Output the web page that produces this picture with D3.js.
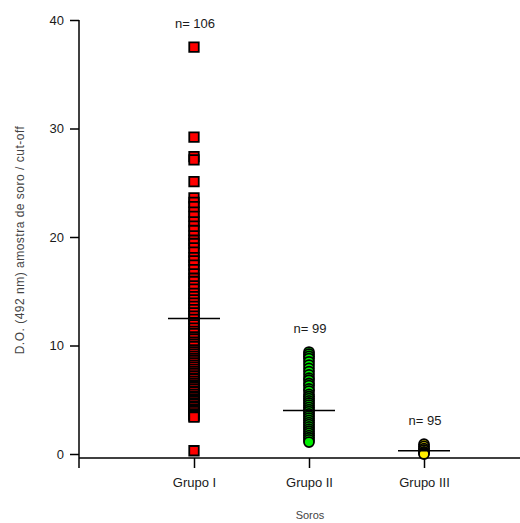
<!DOCTYPE html>
<html>
<head>
<meta charset="utf-8">
<script src="https://cdn.jsdelivr.net/npm/d3@7"></script>
<style>
  body { margin: 0; background: #fff; }
  text { font-family: "Liberation Sans", Arial, sans-serif; fill: #1a1a1a; }
</style>
</head>
<body>
<div id="chart"></div>
<script>
// groups on the x axis
const groups = ["Grupo I", "Grupo II", "Grupo III"];
const counts = [106, 99, 95];
const means = [12.5, 4.0, 0.3];
const colors = ["#ff0000", "#00ee00", "#ffee00"];
const yTicks = [0, 10, 20, 30, 40];

// values (O.D. ratio)
const grupoI = [
    37.5, 29.2, 27.4, 27.1, 25.1, 23.6, 23.2, 22.8, 22.3, 21.9,
    21.4, 21.0, 20.6, 20.1, 19.7, 19.4, 19.0, 18.6, 18.1, 17.8,
    17.4, 17.0, 16.6, 16.2, 15.9, 15.5, 15.2, 14.8, 14.5, 14.2,
    13.9, 13.6, 13.3, 13.0, 12.7, 12.4, 12.1, 11.9, 11.6, 11.3,
    11.1, 10.8, 10.6, 10.3, 10.1, 9.9, 9.6, 9.4, 9.2, 9.0,
    8.8, 8.6, 8.4, 8.2, 8.0, 7.8, 7.6, 7.4, 7.2, 7.0,
    6.9, 6.7, 6.5, 6.3, 6.2, 6.0, 5.8, 5.7, 5.5, 5.3,
    5.2, 5.0, 4.9, 4.7, 4.6, 4.4, 4.3, 4.1, 4.0, 3.9,
    3.7, 3.6, 3.5, 3.4, 0.3
];
const grupoII = [
    9.4, 9.2, 9.0, 8.8, 8.5, 8.2, 7.9, 7.6, 7.3, 7.0, 6.8,
    6.5, 6.3, 6.0, 5.8, 5.5, 5.3, 5.1, 4.9, 4.7, 4.5,
    4.3, 4.1, 3.9, 3.7, 3.5, 3.3, 3.1, 2.9, 2.7, 2.5,
    2.3, 2.1, 1.9, 1.7, 1.5, 1.3, 1.1
];
const grupoIII = [0.9, 0.7, 0.5, 0.35, 0.2, 0.1, 0.0];
const series = [grupoI, grupoII, grupoIII];
const shapes = [d3.symbolSquare, d3.symbolCircle, d3.symbolCircle];

const width = 520, height = 523;
const margin = { top: 20, right: 0, bottom: 69, left: 79 };

const svg = d3.select("#chart").append("svg")
    .attr("width", width)
    .attr("height", height);

const y = d3.scaleLinear()
    .domain([0, 40])
    .range([454, 20]);

const x = d3.scalePoint()
    .domain(groups)
    .range([194, 424]);

// y axis
const yAxis = svg.append("g")
    .attr("transform", `translate(${margin.left},0)`)
    .call(d3.axisLeft(y).tickValues(yTicks).tickSize(9).tickPadding(6));
yAxis.select(".domain").remove();
yAxis.append("line")
    .attr("x1", 0).attr("x2", 0)
    .attr("y1", 20).attr("y2", 468)
    .attr("stroke", "#000").attr("stroke-width", 1.5);
yAxis.selectAll(".tick line").attr("stroke-width", 1.5);
yAxis.selectAll(".tick text")
    .style("font-size", "13px");

// x axis
const xAxis = svg.append("g")
    .attr("transform", "translate(0,458)")
    .call(d3.axisBottom(x).tickSize(10).tickPadding(10));
xAxis.select(".domain").remove();
xAxis.append("line")
    .attr("x1", margin.left).attr("x2", width)
    .attr("stroke", "#000").attr("stroke-width", 1.5);
xAxis.selectAll(".tick line").attr("stroke-width", 1.5);
xAxis.selectAll(".tick text")
    .style("font-size", "13px");

// axis titles
svg.append("text")
    .attr("transform", `translate(24,240) rotate(-90)`)
    .attr("text-anchor", "middle")
    .style("font-size", "12px")
    .style("letter-spacing", "0.5px")
    .style("fill", "#444")
    .text("D.O. (492 nm) amostra de soro / cut-off");

svg.append("text")
    .attr("x", 310).attr("y", 519)
    .attr("text-anchor", "middle")
    .style("font-size", "11px")
    .style("fill", "#444")
    .text("Soros");

// points
series.forEach((vals, i) => {
    svg.append("g")
        .selectAll("path")
        .data(vals)
        .enter()
        .append("path")
        .attr("d", d3.symbol().type(shapes[i]).size(i === 0 ? 90 : 78))
        .attr("transform", (d) => `translate(${x(groups[i])},${y(d)})`)
        .attr("fill", colors[i])
        .attr("stroke", "#000")
        .attr("stroke-width", 1.8);
});

// mean lines
svg.append("g")
    .selectAll("line")
    .data(means)
    .enter()
    .append("line")
    .attr("x1", (d, i) => x(groups[i]) - 26)
    .attr("x2", (d, i) => x(groups[i]) + 26)
    .attr("y1", (d) => y(d))
    .attr("y2", (d) => y(d))
    .attr("stroke", "#000")
    .attr("stroke-width", 1.5);

// n labels above each column
svg.append("g")
    .selectAll("text")
    .data(series)
    .enter()
    .append("text")
    .attr("x", (d, i) => x(groups[i]) + 1)
    .attr("y", (d) => y(d3.max(d)) - 19)
    .attr("text-anchor", "middle")
    .style("font-size", "13px")
    .text((d, i) => "n= " + counts[i]);
</script>
</body>
</html>
